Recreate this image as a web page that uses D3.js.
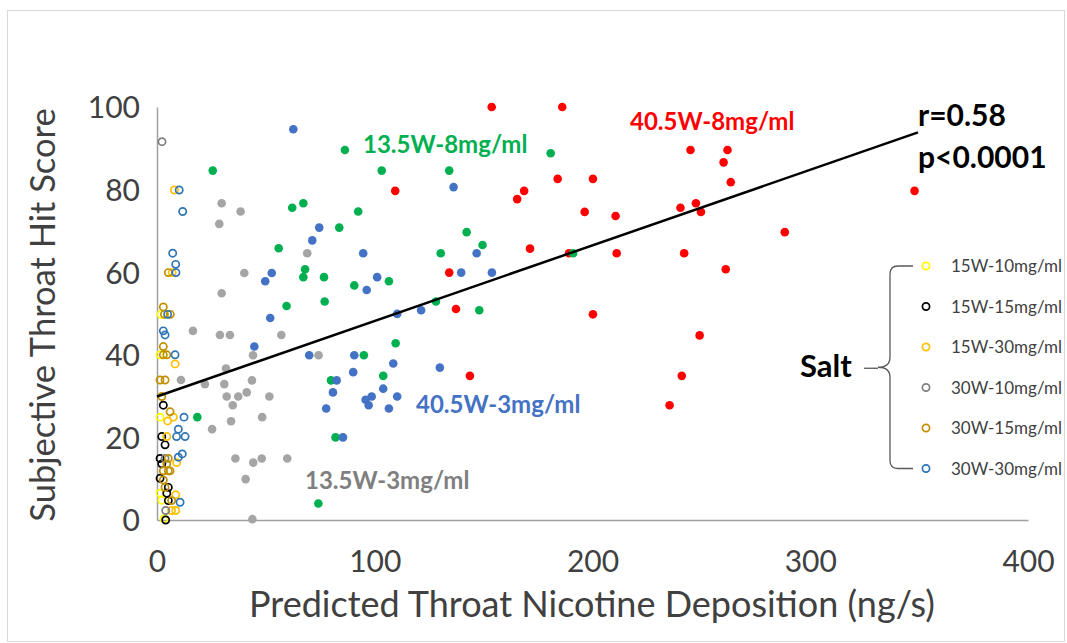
<!DOCTYPE html>
<html>
<head>
<meta charset="utf-8">
<script src="https://cdn.jsdelivr.net/npm/d3@7"></script>
<style>
  html, body { margin: 0; padding: 0; background: #fff; }
  svg { display: block; font-family: Lato, "Open Sans", sans-serif; }
</style>
</head>
<body>
<svg id="chart" width="1067" height="643"></svg>
<script>
// ---- Axis setup ----
const xTicks = [0, 100, 200, 300, 400];
const yTicks = [0, 20, 40, 60, 80, 100];
const xTitle = "Predicted Throat Nicotine Deposition (ng/s)";
const yTitle = "Subjective Throat Hit Score";

// ---- Freebase groups (filled markers): [deposition, score] ----
const freebase40_8 = [
  [153.7,100],[186.1,100],[245.0,89.6],[262.0,89.6],[260.2,86.6],[263.5,81.8],
  [347.9,79.7],[109.4,79.7],[168.6,79.7],[184.0,82.6],[200.2,82.6],[165.4,77.7],
  [196.4,74.6],[210.6,73.6],[240.4,75.6],[247.5,76.7],[249.8,74.6],[288.3,69.7],
  [171.3,65.7],[189.2,64.6],[211.1,64.6],[242.1,64.6],[261.2,60.7],[134.2,59.9],
  [137.3,51.1],[200.2,49.8],[249.2,44.7],[143.7,34.9],[241.0,34.9],[235.4,27.8]
];
const freebase13_8 = [
  [86.3,89.6],[25.6,84.6],[103.2,84.6],[134.2,84.6],[180.8,88.8],[67.2,76.7],
  [62.1,75.6],[92.4,74.7],[83.7,70.8],[142.2,69.7],[55.9,65.8],[149.5,66.6],
  [130.3,64.6],[191.1,64.6],[68.0,60.7],[67.2,58.8],[76.7,58.8],[90.6,56.8],
  [106.5,57.8],[59.5,51.8],[77.0,52.9],[128.1,52.9],[148.0,50.8],[95.0,39.9],
  [109.6,42.8],[103.9,34.9],[79.9,33.8],[18.5,24.9],[82.0,20.0],[74.1,4.0]
];
const freebase13_3 = [
  [29.7,76.7],[38.4,74.7],[28.6,71.7],[69.0,64.6],[40.1,59.8],[29.7,54.9],
  [16.5,45.8],[28.9,44.8],[33.5,44.8],[57.1,44.8],[44.1,39.9],[74.2,39.9],
  [31.7,36.7],[11.0,33.9],[22.0,32.9],[30.9,32.9],[43.6,33.8],[32.0,29.9],
  [37.3,29.9],[41.2,30.9],[34.8,27.8],[51.6,29.9],[48.3,24.9],[34.0,23.9],
  [25.3,22.0],[36.0,14.9],[44.2,13.9],[48.1,14.9],[59.8,14.9],[40.7,9.9],[43.8,0.2]
];
const freebase40_3 = [
  [62.6,94.6],[136.2,80.6],[74.5,70.8],[71.3,67.7],[94.7,64.6],[146.8,64.6],
  [52.7,59.8],[49.7,57.8],[101.1,58.8],[96.3,55.7],[139.7,59.9],[153.8,59.9],
  [52.0,48.9],[110.3,49.9],[121.3,50.8],[44.7,42.0],[69.9,39.9],[90.6,39.9],
  [108.5,37.9],[129.9,36.9],[90.1,35.8],[82.5,33.8],[80.8,30.9],[103.9,31.8],
  [110.3,29.9],[98.6,29.9],[95.8,29.1],[97.2,27.8],[77.7,27.0],[106.5,27.0],[85.4,20.0]
];

// ---- Salt groups (open markers) ----
const salt15_10 = [[1.8,49.8],[1.4,40.0],[1.4,24.9],[1.4,6.5],[2.2,4.8],[3.2,0.3]];
const salt15_15 = [
  [2.9,27.8],[2.2,20.2],[3.7,18.2],[1.4,14.9],[2.2,13.6],[1.4,10.1],
  [5.2,7.9],[4.5,6.5],[5.2,4.7],[4.0,0.0]
];
const salt15_30 = [
  [8.0,79.9],[7.0,59.9],[8.3,37.8],[4.9,24.0],[7.5,24.9],[4.5,20.2],
  [9.0,13.9],[8.6,6.1],[6.7,2.3],[8.6,2.3]
];
const salt30_10 = [[2.3,91.6],[3.7,14.9],[4.0,2.3]];
const salt30_15 = [
  [5.2,59.9],[2.9,51.6],[3.4,49.8],[6.1,49.8],[2.9,42.0],[2.9,40.0],[4.5,40.0],
  [1.4,33.9],[3.7,33.9],[2.2,29.9],[6.0,26.2],[5.2,14.9],[4.5,13.6],[2.9,11.9],
  [5.2,11.9],[6.0,11.9],[2.9,9.7],[3.7,7.9],[6.7,4.7]
];
const salt30_30 = [
  [10.2,79.9],[11.8,74.7],[7.2,64.6],[8.6,61.9],[8.7,59.9],[4.9,49.8],[2.9,45.8],
  [3.7,44.8],[8.3,40.0],[12.4,24.9],[9.8,22.0],[9.0,20.2],[12.9,20.2],[11.6,16.0],
  [9.8,15.2],[10.6,4.3]
];

// Linear fit across all groups
const fitIntercept = 29.9;
const fitSlope = 0.183;
const fitRange = [0, 349.5];
const statLines = ["r=0.58", "p<0.0001"];

const filledGroups = [
  { name: "40.5W-8mg/ml", data: freebase40_8, color: "#FF0000" },
  { name: "13.5W-8mg/ml", data: freebase13_8, color: "#00B050" },
  { name: "13.5W-3mg/ml", data: freebase13_3, color: "#A5A5A5" },
  { name: "40.5W-3mg/ml", data: freebase40_3, color: "#4472C4" }
];
const saltGroups = [
  { name: "15W-10mg/ml", data: salt15_10, color: "#FFFF00" },
  { name: "15W-15mg/ml", data: salt15_15, color: "#000000" },
  { name: "15W-30mg/ml", data: salt15_30, color: "#FFC000" },
  { name: "30W-10mg/ml", data: salt30_10, color: "#7F7F7F" },
  { name: "30W-15mg/ml", data: salt30_15, color: "#BF9000" },
  { name: "30W-30mg/ml", data: salt30_30, color: "#2E75B6" }
];

// ---- Drawing ----
const svg = d3.select("#chart");

svg.append("rect")
  .attr("x", 7.5).attr("y", 10.5).attr("width", 1057).attr("height", 631)
  .attr("fill", "#fff").attr("stroke", "#D9D9D9").attr("stroke-width", 1);

const x = d3.scaleLinear().domain([0, 400]).range([157, 1028]);
const y = d3.scaleLinear().domain([0, 100]).range([520, 107]);

const xAxis = svg.append("g")
  .attr("transform", `translate(0,${y(0)})`)
  .call(d3.axisBottom(x).tickValues(xTicks).tickSize(0).tickPadding(31));
const yAxis = svg.append("g")
  .attr("transform", `translate(${x(0)},0)`)
  .call(d3.axisLeft(y).tickValues(yTicks).tickSize(0).tickPadding(17));

[xAxis, yAxis].forEach(g => {
  g.select(".domain").attr("stroke", "#A0A0A0").attr("stroke-width", 1.5);
  g.selectAll("text")
    .attr("fill", "#404040")
    .style("font-family", "Lato, sans-serif")
    .style("font-size", "30px");
});
yAxis.selectAll("text").attr("dy", "0.36em");

svg.append("text")
  .attr("x", 592).attr("y", 617)
  .attr("text-anchor", "middle")
  .attr("fill", "#404040")
  .style("font-size", "36px")
  .text(xTitle);

svg.append("text")
  .attr("transform", `translate(55,${315}) rotate(-90)`)
  .attr("text-anchor", "middle")
  .attr("fill", "#404040")
  .style("font-size", "34.5px")
  .text(yTitle);

// filled markers
filledGroups.forEach(g => {
  svg.append("g").selectAll("circle")
    .data(g.data).join("circle")
    .attr("cx", d => x(d[0])).attr("cy", d => y(d[1]))
    .attr("r", 4.3)
    .attr("fill", g.color);
});

// open markers
saltGroups.forEach(g => {
  svg.append("g").selectAll("circle")
    .data(g.data).join("circle")
    .attr("cx", d => x(d[0])).attr("cy", d => y(d[1]))
    .attr("r", 3.6)
    .attr("fill", "none")
    .attr("stroke", g.color)
    .attr("stroke-width", 1.7);
});

// regression line
svg.append("line")
  .attr("x1", x(fitRange[0])).attr("y1", y(fitIntercept + fitSlope * fitRange[0]))
  .attr("x2", x(fitRange[1])).attr("y2", y(fitIntercept + fitSlope * fitRange[1]))
  .attr("stroke", "#000").attr("stroke-width", 2.5);

// group labels
const groupLabels = [
  { text: "13.5W-8mg/ml", x: 363, y: 153, color: "#00B050" },
  { text: "40.5W-8mg/ml", x: 630, y: 130, color: "#FF0000" },
  { text: "40.5W-3mg/ml", x: 416, y: 413, color: "#4472C4" },
  { text: "13.5W-3mg/ml", x: 305, y: 489, color: "#7F7F7F" }
];
svg.append("g").selectAll("text")
  .data(groupLabels).join("text")
  .attr("x", d => d.x).attr("y", d => d.y)
  .attr("fill", d => d.color)
  .style("font-size", "24px").style("font-weight", "bold")
  .text(d => d.text);

// correlation stats
svg.append("g").selectAll("text")
  .data(statLines).join("text")
  .attr("x", 918).attr("y", (d, i) => 126 + i * 42)
  .attr("fill", "#000")
  .style("font-size", "30px").style("font-weight", "bold")
  .text(d => d);

// salt legend
const legendTop = 266, legendStep = 40.5;
const legend = svg.append("g");
legend.selectAll("circle")
  .data(saltGroups).join("circle")
  .attr("cx", 926).attr("cy", (d, i) => legendTop + i * legendStep)
  .attr("r", 3.6).attr("fill", "none")
  .attr("stroke", d => d.color).attr("stroke-width", 1.7);
legend.selectAll("text")
  .data(saltGroups).join("text")
  .attr("x", 951).attr("y", (d, i) => legendTop + i * legendStep + 6)
  .attr("fill", "#404040")
  .style("font-size", "17px")
  .text(d => d.name);

// brace grouping the salt series
const braceX = 890, braceTop = legendTop, braceBottom = legendTop + 5 * legendStep;
const braceMid = (braceTop + braceBottom) / 2;
svg.append("path")
  .attr("d", `M913,${braceTop} L${braceX + 8},${braceTop} Q${braceX},${braceTop} ${braceX},${braceTop + 8}
              L${braceX},${braceMid - 10} Q${braceX},${braceMid} ${braceX - 12},${braceMid}
              Q${braceX},${braceMid} ${braceX},${braceMid + 10}
              L${braceX},${braceBottom - 8} Q${braceX},${braceBottom} ${braceX + 8},${braceBottom} L913,${braceBottom}`)
  .attr("fill", "none").attr("stroke", "#595959").attr("stroke-width", 1.3);
svg.append("line")
  .attr("x1", 864).attr("y1", braceMid + 1).attr("x2", braceX - 12).attr("y2", braceMid + 1)
  .attr("stroke", "#595959").attr("stroke-width", 1.3);

svg.append("text")
  .attr("x", 800).attr("y", 377)
  .attr("fill", "#000")
  .style("font-size", "31px").style("font-weight", "bold")
  .text("Salt");
</script>
</body>
</html>
